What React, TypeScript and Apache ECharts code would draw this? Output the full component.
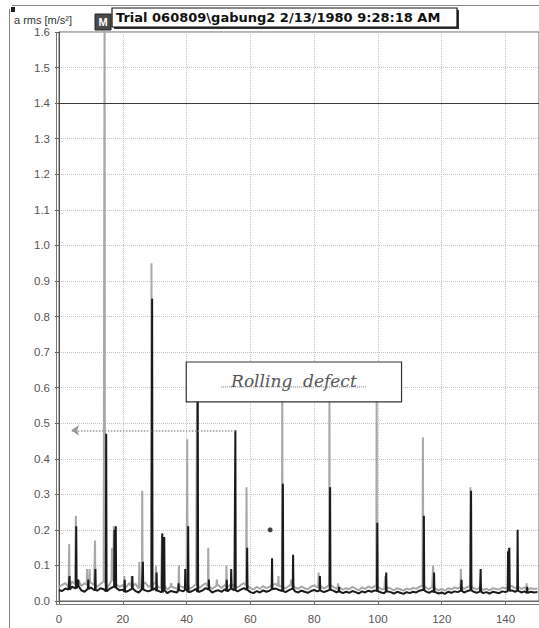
import React, { useEffect, useRef } from "react";
import * as echarts from "echarts";

// Noise floor (value at x = 0, 1, 2, ... 150)
const blackNoise = [
  0.030, 0.028, 0.035, 0.032, 0.040, 0.036, 0.042, 0.030, 0.026, 0.034,
  0.038, 0.031, 0.029, 0.036, 0.033, 0.027, 0.035, 0.040, 0.037, 0.030,
  0.032, 0.026, 0.030, 0.035, 0.028, 0.024, 0.033, 0.030, 0.027, 0.031,
  0.036, 0.029, 0.025, 0.030, 0.022, 0.028, 0.026, 0.024, 0.030, 0.027,
  0.032, 0.025, 0.029, 0.034, 0.026, 0.030, 0.036, 0.032, 0.024, 0.028,
  0.030, 0.026, 0.033, 0.028, 0.035, 0.030, 0.027, 0.032, 0.036, 0.031,
  0.025, 0.022, 0.028, 0.024, 0.030, 0.026, 0.029, 0.033, 0.035, 0.031,
  0.028, 0.025, 0.030, 0.034, 0.027, 0.024, 0.029, 0.026, 0.023, 0.028,
  0.031, 0.027, 0.030, 0.025, 0.028, 0.032, 0.029, 0.024, 0.027, 0.022,
  0.026, 0.023, 0.028, 0.025, 0.021, 0.027, 0.024, 0.029, 0.026, 0.030,
  0.028, 0.024, 0.022, 0.027, 0.025, 0.021, 0.026, 0.023, 0.020, 0.025,
  0.022, 0.026, 0.024, 0.029, 0.031, 0.027, 0.023, 0.028, 0.025, 0.021,
  0.024, 0.020, 0.026, 0.023, 0.027, 0.025, 0.029, 0.024, 0.028, 0.030,
  0.026, 0.023, 0.027, 0.022, 0.025, 0.021, 0.026, 0.024, 0.022, 0.027,
  0.025, 0.028, 0.030, 0.026, 0.029, 0.024, 0.027, 0.023, 0.026, 0.024,
  0.025,
];

const grayNoise = [
  0.040, 0.045, 0.050, 0.038, 0.055, 0.048, 0.060, 0.042, 0.050, 0.046,
  0.052, 0.044, 0.040, 0.048, 0.055, 0.036, 0.050, 0.058, 0.046, 0.040,
  0.045, 0.038, 0.050, 0.042, 0.048, 0.035, 0.046, 0.052, 0.040, 0.044,
  0.050, 0.040, 0.036, 0.044, 0.032, 0.040, 0.038, 0.034, 0.042, 0.038,
  0.046, 0.034, 0.040, 0.048, 0.036, 0.044, 0.050, 0.042, 0.034, 0.040,
  0.044, 0.036, 0.046, 0.040, 0.048, 0.042, 0.038, 0.045, 0.050, 0.044,
  0.036, 0.032, 0.040, 0.034, 0.042, 0.036, 0.040, 0.046, 0.048, 0.042,
  0.040, 0.035, 0.042, 0.046, 0.038, 0.034, 0.041, 0.036, 0.033, 0.040,
  0.044, 0.038, 0.042, 0.035, 0.040, 0.045, 0.040, 0.034, 0.038, 0.032,
  0.036, 0.033, 0.040, 0.035, 0.030, 0.038, 0.034, 0.041, 0.036, 0.042,
  0.040, 0.034, 0.032, 0.038, 0.035, 0.030, 0.036, 0.033, 0.029, 0.035,
  0.032, 0.037, 0.034, 0.040, 0.044, 0.038, 0.033, 0.040, 0.035, 0.030,
  0.034, 0.029, 0.036, 0.033, 0.038, 0.035, 0.040, 0.034, 0.039, 0.042,
  0.036, 0.033, 0.038, 0.031, 0.035, 0.030, 0.036, 0.034, 0.032, 0.038,
  0.035, 0.040, 0.042, 0.036, 0.040, 0.034, 0.038, 0.033, 0.036, 0.034,
  0.035,
];

// Spectral peaks [frequency, a rms]
const grayPeaks: [number, number][] = [
  [3.2, 0.16], [5.3, 0.24], [8.8, 0.09], [9.6, 0.09], [11.3, 0.17], [14.3, 1.75],
  [16.6, 0.15], [17.2, 0.21], [20.5, 0.07], [22.8, 0.07], [25.2, 0.11], [26.1, 0.31],
  [29.0, 0.95], [30.4, 0.10], [32.3, 0.19], [35.2, 0.05], [37.6, 0.10], [40.2, 0.455],
  [43.3, 0.6], [46.8, 0.15], [49.5, 0.06], [52.5, 0.10], [58.8, 0.32], [68.8, 0.07],
  [70.0, 0.62], [72.8, 0.06], [81.4, 0.08], [84.8, 0.62], [87.5, 0.05], [99.6, 0.62],
  [102.3, 0.07], [114.1, 0.46], [117.3, 0.10], [126.0, 0.09], [129.0, 0.32],
  [141.0, 0.15], [146.6, 0.05],
];

const blackPeaks: [number, number][] = [
  [3.3, 0.07], [5.4, 0.21], [6.0, 0.06], [9.2, 0.06], [11.4, 0.09], [14.8, 0.47],
  [17.4, 0.20], [17.8, 0.21], [20.6, 0.06], [23.0, 0.07], [26.3, 0.11], [29.2, 0.85],
  [30.6, 0.08], [32.4, 0.19], [33.0, 0.18], [37.5, 0.05], [39.6, 0.09], [40.5, 0.21],
  [43.5, 0.62], [47.0, 0.06], [52.6, 0.06], [54.0, 0.09], [55.3, 0.48], [59.0, 0.15],
  [66.8, 0.12], [70.2, 0.33], [73.4, 0.13], [81.8, 0.07], [85.0, 0.32], [87.8, 0.04],
  [99.8, 0.22], [102.6, 0.08], [114.4, 0.24], [117.6, 0.08], [126.2, 0.06],
  [129.2, 0.31], [132.2, 0.09], [140.8, 0.14], [141.2, 0.15], [143.8, 0.20],
  [146.8, 0.04],
];

const markerDot: [number, number][] = [[66.2, 0.2]];
const cursorLevel = 1.4;
const arrowFrom: [number, number] = [55.3, 0.48];
const arrowTo: [number, number] = [3.8, 0.48];
const xTicks = [0, 20, 40, 60, 80, 100, 120, 140];
const yTicks = [0.0, 0.1, 0.2, 0.3, 0.4, 0.5, 0.6, 0.7, 0.8, 0.9, 1.0, 1.1, 1.2, 1.3, 1.4, 1.5, 1.6];
const titleText = "Trial 060809\\gabung2 2/13/1980 9:28:18 AM";
const yName = "a rms [m/s²]";
const noteText = "Rolling  defect";

function buildSeries(noise: number[], peaks: [number, number][]) {
  const pts: [number, number][] = noise.map((v, i) => [i, v]);
  peaks.forEach(([x, h]) => {
    const base = noise[Math.min(noise.length - 1, Math.round(x))];
    pts.push([x - 0.12, base], [x, h], [x + 0.12, base]);
  });
  pts.sort((a, b) => a[0] - b[0]);
  return pts;
}

export default function App() {
  const ref = useRef<HTMLDivElement>(null);
  useEffect(() => {
    if (!ref.current) return;
    const chart = echarts.init(ref.current, null, { renderer: "svg" });
    const font = "Liberation Sans";
    const option: any = {
      animation: false,
      backgroundColor: "#fff",
      grid: {
        left: 59, right: 0, top: 32, bottom: 27,
        show: true, borderColor: "#666", borderWidth: 1, backgroundColor: "#fff",
      },
      xAxis: {
        type: "value", min: 0, max: 150.5, interval: 20, offset: 7,
        axisLine: { show: true, lineStyle: { color: "#666" } },
        axisTick: { show: true, length: 3, lineStyle: { color: "#666" } },
        axisLabel: {
          fontFamily: font, fontSize: 11.5, color: "#555", margin: 5, showMaxLabel: false,
          formatter: (v: number) => (xTicks.includes(v) ? String(v) : ""),
        },
        splitLine: { show: true, lineStyle: { color: "#c4c4c4", type: "dotted" } },
      },
      yAxis: {
        type: "value", min: 0, max: 1.6, interval: 0.1, offset: 6,
        axisLine: { show: true, lineStyle: { color: "#555" } },
        axisTick: { show: true, length: 4, lineStyle: { color: "#555" } },
        axisLabel: {
          fontFamily: font, fontSize: 11.5, color: "#555", margin: 3,
          formatter: (v: number) => {
            const t = yTicks.find((y) => Math.abs(y - v) < 1e-6);
            return t === undefined ? "" : t.toFixed(1);
          },
        },
        splitLine: { show: true, lineStyle: { color: "#c4c4c4", type: "dotted" } },
      },
      series: [
        {
          type: "line", data: buildSeries(grayNoise, grayPeaks), showSymbol: false, symbol: "none",
          lineStyle: { color: "#a8a8a8", width: 2 }, z: 2,
          markLine: {
            silent: true, symbol: ["none", "arrow"], symbolSize: 8,
            lineStyle: { color: "#9a9a9a", type: "dotted", width: 1.5 },
            label: { show: false },
            data: [[{ coord: arrowFrom }, { coord: arrowTo }]],
          },
          markPoint: {
            silent: true, symbol: "rect", symbolSize: [16, 16], symbolOffset: [0, -10],
            itemStyle: { color: "#4a4a4a", borderColor: "#222", borderWidth: 1 },
            label: { show: true, formatter: "M", color: "#fff", fontFamily: font, fontSize: 11, fontWeight: "bold" },
            data: [{ coord: [13.8, 1.6] }],
          },
        },
        {
          type: "line", data: buildSeries(blackNoise, blackPeaks), showSymbol: false, symbol: "none",
          lineStyle: { color: "#1a1a1a", width: 2 }, z: 3,
          markLine: {
            silent: true, symbol: ["none", "none"],
            lineStyle: { color: "#3a3a3a", type: "solid", width: 1.2 },
            label: { show: false },
            data: [{ yAxis: cursorLevel }],
          },
        },
        {
          type: "scatter", data: markerDot, symbolSize: 5, itemStyle: { color: "#111" }, z: 4,
        },
      ],
    };
    chart.setOption(option);

    const p = (x: number, y: number) => chart.convertToPixel({ gridIndex: 0 }, [x, y]) as number[];
    const [bx0, by0] = p(39.9, 0.672);
    const [bx1, by1] = p(107.4, 0.56);
    const [gx0, gy0] = p(0, 0);
    const [gx1] = p(150.5, 0);
    const cx = (bx0 + bx1) / 2;
    const cy = (by0 + by1) / 2;

    chart.setOption({
      graphic: [
        // outer frame
        { type: "line", z: 100, shape: { x1: 9.5, y1: 9, x2: 9.5, y2: 628 }, style: { stroke: "#888", lineWidth: 1 } },
        { type: "line", z: 100, shape: { x1: 12, y1: 5.5, x2: 539, y2: 5.5 }, style: { stroke: "#888", lineWidth: 1 } },
        { type: "rect", z: 100, shape: { x: 11, y: 7, width: 4, height: 5 }, style: { fill: "#222" } },
        // double borders of plot frame
        { type: "line", z: 100, shape: { x1: gx0 - 2.5, y1: 32, x2: gx0 - 2.5, y2: gy0 + 4 }, style: { stroke: "#777", lineWidth: 1 } },
        { type: "line", z: 100, shape: { x1: gx0 - 2.5, y1: gy0 + 3.5, x2: gx1, y2: gy0 + 3.5 }, style: { stroke: "#777", lineWidth: 1 } },
        // y axis name
        { type: "text", z: 100, x: 14, y: 14, style: { text: yName, fontFamily: font, fontSize: 11, fill: "#333" } },
        // title box
        { type: "rect", z: 100, shape: { x: 114, y: 10, width: 345, height: 19 }, style: { fill: "#333" } },
        { type: "rect", z: 101, shape: { x: 112, y: 8, width: 345, height: 19 }, style: { fill: "#fff", stroke: "#111", lineWidth: 1.2 } },
        { type: "text", z: 102, x: 116, y: 17.5, style: { text: titleText, fontFamily: "DejaVu Sans", fontSize: 13, fontWeight: "bold", fill: "#111", verticalAlign: "middle" } },
        // annotation box
        { type: "rect", z: 100, shape: { x: bx0, y: by0, width: bx1 - bx0, height: by1 - by0 }, style: { fill: "#fff", stroke: "#333", lineWidth: 1.2 } },
        { type: "text", z: 101, x: cx, y: cy - 1, style: { text: noteText, fontFamily: "DejaVu Serif", fontStyle: "italic", fontSize: 17, fill: "#555", align: "center", verticalAlign: "middle" } },
        { type: "line", z: 101, shape: { x1: cx - 73, y1: cy + 5, x2: cx + 73, y2: cy + 5 }, style: { stroke: "#777", lineWidth: 1, lineDash: [1, 1] } },
      ],
    });
    return () => chart.dispose();
  }, []);
  return <div ref={ref} style={{ position: "fixed", left: 0, top: 0, width: 539, height: 628 }} />;
}
